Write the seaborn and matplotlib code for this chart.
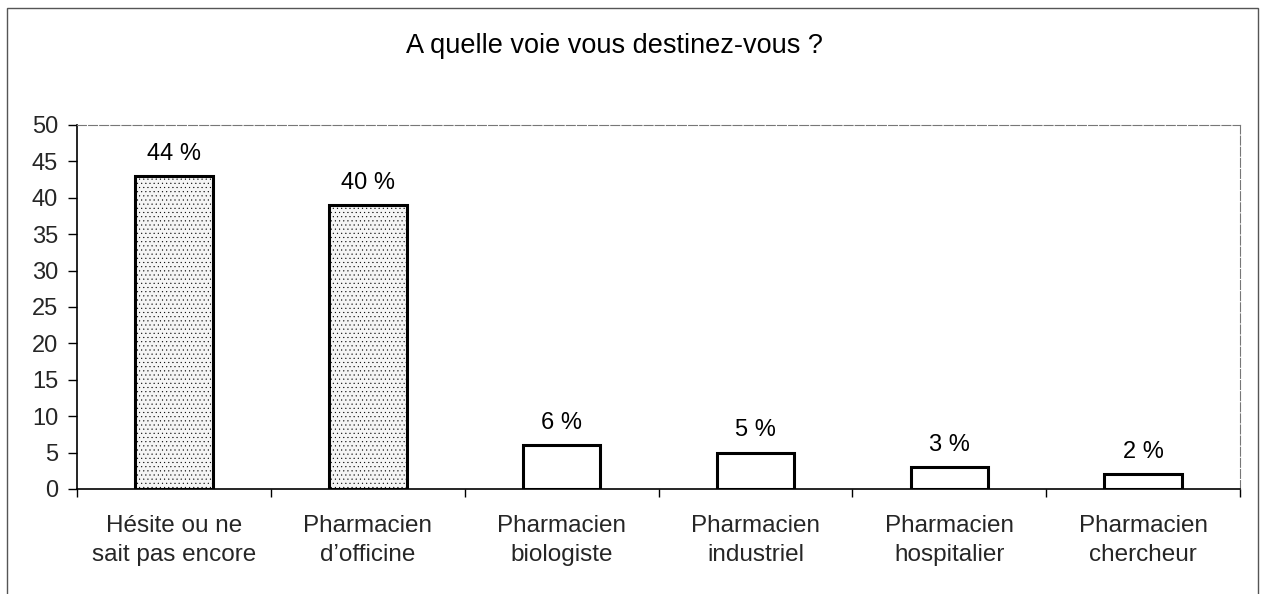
import numpy as np
import pandas as pd
import seaborn as sns
import matplotlib.pyplot as plt
from matplotlib.patches import Rectangle
from matplotlib.ticker import FixedLocator

# -------------------------
# data
# -------------------------
categories = [
    "Hésite ou ne\nsait pas encore",
    "Pharmacien\nd\u2019officine",
    "Pharmacien\nbiologiste",
    "Pharmacien\nindustriel",
    "Pharmacien\nhospitalier",
    "Pharmacien\nchercheur",
]
values = [43, 39, 6, 5, 3, 2]
bar_labels = ["44 %", "40 %", "6 %", "5 %", "3 %", "2 %"]
yticks = list(range(0, 51, 5))

sns.set_theme(style="white")
plt.rcParams["font.family"] = ["Liberation Sans", "DejaVu Sans"]
plt.rcParams["hatch.color"] = "#b5b5b5"
plt.rcParams["hatch.linewidth"] = 0.3

df = pd.DataFrame({"voie": categories, "n": values})

fig = plt.figure(figsize=(12.66, 5.94), dpi=100)
ax = fig.add_axes([0.0608, 0.1768, 0.9187, 0.6128])

fills = ["#f5f5f5", "#f5f5f5", "white", "white", "white", "white"]
sns.barplot(data=df, x="voie", y="n", hue="voie", palette=fills, legend=False,
            width=0.4, edgecolor="black", linewidth=2.2, ax=ax)

# stippled fill on the two big bars
for p in ax.patches[:2]:
    p.set_hatch("....")

for cont, lab in zip(ax.containers, bar_labels):
    ax.bar_label(cont, labels=[lab], padding=8, fontsize=17, color="black")

ax.set_ylim(0, 50)
ax.set_xlim(-0.5, len(categories) - 0.5)
ax.set_yticks(yticks)
ax.set_xlabel("")
ax.set_ylabel("")
ax.tick_params(axis="y", which="major", length=6.5, width=1, color="black",
               labelsize=17, pad=7, left=True)
ax.tick_params(axis="x", which="major", length=0, labelsize=17.5, pad=19)
for t in ax.get_xticklabels():
    t.set_linespacing(1.4)
ax.xaxis.set_minor_locator(FixedLocator(np.arange(-0.5, len(categories), 1.0)))
ax.tick_params(axis="x", which="minor", length=6, width=1, color="black", bottom=True)

for side in ["left", "bottom"]:
    ax.spines[side].set_color("black")
    ax.spines[side].set_linewidth(1.2)
for side in ["top", "right"]:
    ax.spines[side].set_color("#777777")
    ax.spines[side].set_linewidth(0.8)
    ax.spines[side].set_linestyle((0, (8, 2)))

fig.text(614 / 1266, 1 - 46 / 594, "A quelle voie vous destinez-vous ?", ha="center",
         va="center", fontsize=19.5, color="black")

# outer chart frame
frame = Rectangle((7 / 1266, -0.02), 1251 / 1266, 1.02 - 8 / 594,
                  transform=fig.transFigure, fill=False, edgecolor="#555555",
                  linewidth=1.0)
fig.patches.append(frame)

fig.savefig("out.png", dpi=100, facecolor="white")
